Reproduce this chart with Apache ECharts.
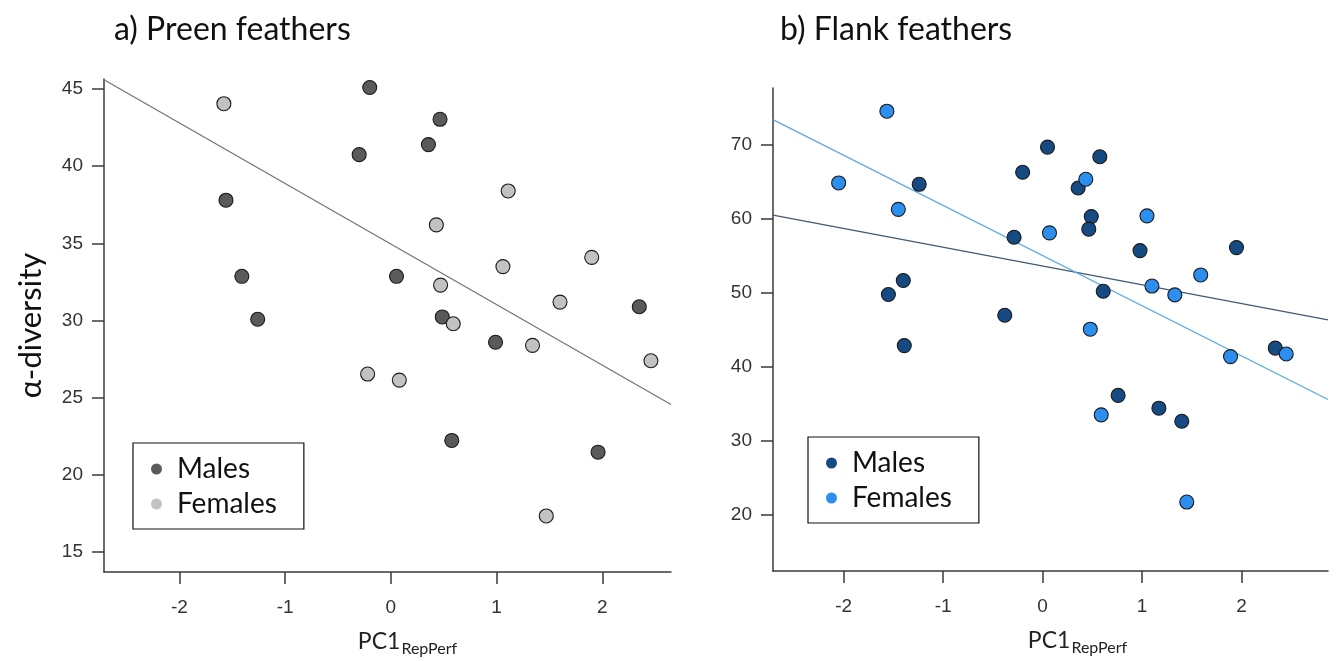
<!DOCTYPE html>
<html>
<head>
<meta charset="utf-8">
<script src="https://cdn.jsdelivr.net/npm/echarts@6/dist/echarts.min.js"></script>
<style>
html,body{margin:0;padding:0;background:#fff;}
#chart{width:1337px;height:661px;}
</style>
</head>
<body>
<div id="chart"></div>
<script>
// ---- data ----
const preenMaleX   = [-0.20, 0.465, 0.355, -0.30, -1.56, -1.41, 0.053, -1.26, 0.486, 0.99, 2.35, 0.576, 1.96];
const preenMaleY   = [45.1, 43.04, 41.4, 40.75, 37.8, 32.87, 32.87, 30.09, 30.24, 28.6, 30.9, 22.24, 21.48];
const preenFemaleX = [-1.58, 1.11, 0.43, 1.06, 1.90, 0.47, 1.60, 0.59, 1.34, 2.46, -0.22, 0.08, 1.47];
const preenFemaleY = [44.05, 38.4, 36.2, 33.5, 34.1, 32.3, 31.2, 29.8, 28.4, 27.4, 26.54, 26.15, 17.35];

const flankMaleX   = [0.05, 0.576, -0.20, -1.24, 0.358, 0.49, 0.465, -0.286, 0.98, 1.95, -1.40, -1.55, 0.61, -0.38, -1.39, 2.34, 0.76, 1.17, 1.40];
const flankMaleY   = [69.7, 68.4, 66.3, 64.67, 64.17, 60.3, 58.6, 57.5, 55.7, 56.1, 51.65, 49.76, 50.2, 46.95, 42.84, 42.5, 36.1, 34.37, 32.6];
const flankFemaleX = [-1.565, -2.05, -1.45, 0.435, 0.07, 1.05, 1.59, 1.10, 1.33, 0.48, 1.89, 2.45, 0.59, 1.45];
const flankFemaleY = [74.56, 64.85, 61.28, 65.35, 58.1, 60.4, 52.4, 50.9, 49.7, 45.06, 41.35, 41.7, 33.47, 21.67];

// regression fits [intercept, slope]
const preenFit       = [34.96, -3.92];
const flankMaleFit   = [53.6, -2.54];
const flankFemaleFit = [55.03, -6.79];

// axis ranges and tick labels
const preenXRange = [-2.714, 2.65];
const preenYRange = [13.72, 45.65];
const flankXRange = [-2.71, 2.87];
const flankYRange = [12.34, 77.7];
const xTicks      = [-2, -1, 0, 1, 2];
const preenYTicks = [15, 20, 25, 30, 35, 40, 45];
const flankYTicks = [20, 30, 40, 50, 60, 70];

const titles = ['a) Preen feathers', 'b) Flank feathers'];
const groupNames = ['Males', 'Females'];

// ---- build ----
const zip = (xs, ys) => xs.map((x, i) => [x, ys[i]]);
const fitLine = (fit, range) => range.map(x => [x, fit[0] + fit[1] * x]);

const C = {
  pm: '#5a5a5a', pf: '#c2c2c2',
  fm: '#154a83', ff: '#2b8ff0',
  pLine: '#757575', fmLine: '#445a72', ffLine: '#5aa9e8'
};
const sans = 'Lato, "Open Sans", sans-serif';
const tickFont = '"Liberation Sans", Arial, sans-serif';

function xAxis(gi, range, shift) {
  return {
    type: 'value', gridIndex: gi, min: range[0], max: range[1],
    splitLine: {show: false},
    axisLine: {show: true, onZero: false, lineStyle: {color: '#3a3a3a', width: 1.5}},
    axisTick: {show: true, length: 12, inside: false, customValues: xTicks, lineStyle: {color: '#3a3a3a', width: 1.5}},
    axisLabel: {customValues: xTicks, margin: 26, color: '#333', fontSize: 19, fontFamily: tickFont},
    name: '{a|PC1}{b|RepPerf}',
    nameLocation: 'middle', nameGap: 55,
    nameTextStyle: {
      padding: [0, 0, 0, shift],
      rich: {
        a: {fontSize: 23, fontFamily: sans, color: '#222', lineHeight: 30},
        b: {fontSize: 16, fontFamily: sans, color: '#222', lineHeight: 17, padding: [13, 0, 0, 1]}
      }
    }
  };
}
function yAxis(gi, range, ticks, name) {
  const ax = {
    type: 'value', gridIndex: gi, min: range[0], max: range[1],
    splitLine: {show: false},
    axisLine: {show: true, onZero: false, lineStyle: {color: '#3a3a3a', width: 1.5}},
    axisTick: {show: true, length: 12, customValues: ticks, lineStyle: {color: '#3a3a3a', width: 1.5}},
    axisLabel: {customValues: ticks, margin: 21, color: '#333', fontSize: 19, fontFamily: tickFont}
  };
  if (name) {
    ax.name = name;
    ax.nameLocation = 'middle';
    ax.nameGap = 58;
    ax.nameTextStyle = {fontSize: 31, fontFamily: sans, color: '#111'};
  }
  return ax;
}
function scatter(name, gi, data, color) {
  return {
    type: 'scatter', name: name, xAxisIndex: gi, yAxisIndex: gi, data: data,
    symbol: 'circle', symbolSize: 14, z: 3,
    itemStyle: {color: color, borderColor: '#1a1a1a', borderWidth: 1.1, opacity: 1},
    emphasis: {disabled: true}
  };
}
function line(gi, data, color) {
  return {
    type: 'line', xAxisIndex: gi, yAxisIndex: gi, data: data,
    symbol: 'none', z: 2, silent: true,
    lineStyle: {color: color, width: 1.3}
  };
}
function legend(left, top, cm, cf) {
  return {
    orient: 'vertical', left: left, top: top,
    borderColor: '#111', borderWidth: 1.2, padding: [11, 27, 10, 18],
    itemWidth: 11, itemHeight: 11, itemGap: 5, icon: 'circle',
    selectedMode: false,
    textStyle: {fontSize: 28, fontFamily: sans, color: '#111', lineHeight: 30, padding: [0, 0, 0, 10]},
    data: [
      {name: groupNames[0], itemStyle: {color: cm, borderWidth: 0}},
      {name: groupNames[1], itemStyle: {color: cf, borderWidth: 0}}
    ]
  };
}

const titleStyle = {fontSize: 32, fontWeight: 'normal', fontFamily: sans, color: '#111'};
const option = {
  animation: false,
  backgroundColor: '#fff',
  title: [
    {text: titles[0], left: 109, top: 9, textStyle: titleStyle},
    {text: titles[1], left: 775, top: 9, textStyle: titleStyle}
  ],
  grid: [
    {left: 104, top: 79, width: 567, height: 493, containLabel: false, outerBoundsMode: 'none'},
    {left: 773, top: 88, width: 555, height: 483, containLabel: false, outerBoundsMode: 'none'}
  ],
  legend: [
    legend(133, 443, C.pm, C.pf),
    legend(808, 437, C.fm, C.ff)
  ],
  xAxis: [xAxis(0, preenXRange, 40), xAxis(1, flankXRange, 54)],
  yAxis: [yAxis(0, preenYRange, preenYTicks, 'α-diversity'), yAxis(1, flankYRange, flankYTicks, null)],
  series: [
    line(0, fitLine(preenFit, preenXRange), C.pLine),
    scatter(groupNames[0], 0, zip(preenMaleX, preenMaleY), C.pm),
    scatter(groupNames[1], 0, zip(preenFemaleX, preenFemaleY), C.pf),
    line(1, fitLine(flankMaleFit, flankXRange), C.fmLine),
    line(1, fitLine(flankFemaleFit, flankXRange), C.ffLine),
    scatter(groupNames[0], 1, zip(flankMaleX, flankMaleY), C.fm),
    scatter(groupNames[1], 1, zip(flankFemaleX, flankFemaleY), C.ff)
  ]
};
const chart = echarts.init(document.getElementById('chart'), null, {renderer: 'canvas'});
chart.setOption(option);
</script>
</body>
</html>
